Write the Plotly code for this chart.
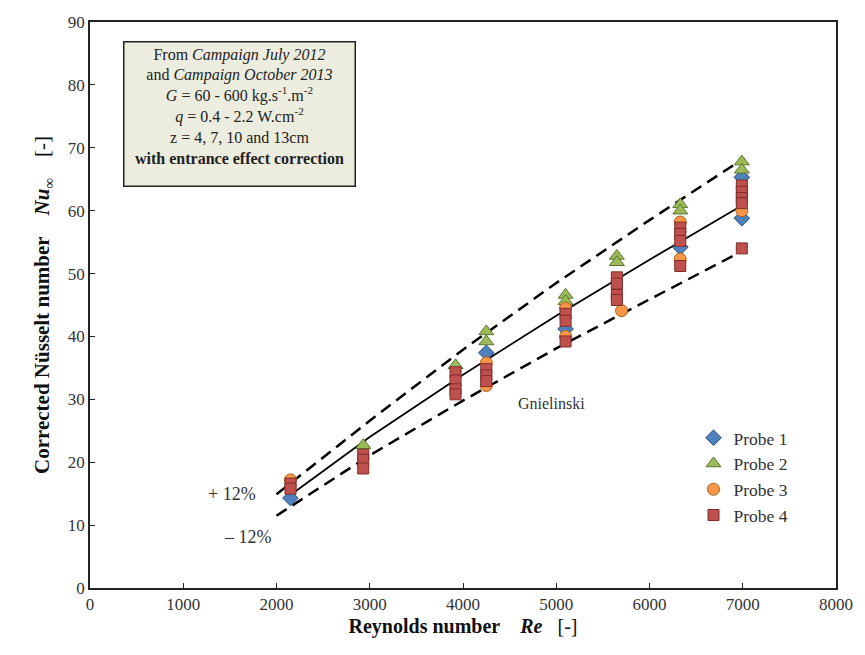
import plotly.graph_objects as go

# Gnielinski correlation and +/-12 % bounds
re_gn = [2150, 3000, 4000, 5000, 6000, 7000]
nu_gn = [14.8, 24.0, 33.9, 43.3, 52.2, 60.9]
re_band = [2000, 3000, 4000, 5000, 6000, 7000]
nu_upper = [14.9, 26.6, 37.9, 48.5, 58.5, 68.2]
nu_lower = [11.5, 21.1, 29.8, 38.1, 45.9, 53.6]

# Probe measurements
re_p1 = [2150, 4250, 5100, 6330, 6990, 6990]
nu_p1 = [14.3, 37.4, 41.2, 54.2, 65.3, 58.8]

re_p2 = [2930, 3920, 4250, 4250, 5100, 5100, 5650, 5650, 6330, 6330, 6990, 6990]
nu_p2 = [22.7, 35.4, 40.8, 39.2, 46.6, 45.6, 52.8, 51.8, 61.0, 60.0, 67.8, 66.5]

re_p3 = [2150, 4250, 4250, 5100, 5100, 5700, 6330, 6330, 6990]
nu_p3 = [17.2, 35.8, 32.2, 44.5, 40.0, 44.1, 58.2, 52.3, 60.0]

re_p4 = [2150, 2150, 2930, 2930, 2930, 3920, 3920, 3920, 3920, 4250, 4250, 4250,
         5100, 5100, 5100, 5650, 5650, 5650, 5650, 6330, 6330, 6330, 6330,
         6990, 6990, 6990, 6990, 6990]
nu_p4 = [16.6, 15.8, 21.2, 20.4, 19.0, 34.3, 33.0, 31.6, 30.8, 34.8, 33.8, 32.9,
         43.6, 42.5, 39.2, 49.4, 48.4, 46.6, 45.8, 57.3, 56.3, 55.2, 51.2,
         64.0, 63.0, 62.0, 61.2, 54.0]

x_ticks = [0, 1000, 2000, 3000, 4000, 5000, 6000, 7000, 8000]
y_ticks = [0, 10, 20, 30, 40, 50, 60, 70, 80, 90]

SERIF = "Liberation Serif"
SP = "&nbsp;" * 4

fig = go.Figure()

fig.add_trace(go.Scatter(x=re_band, y=nu_upper, mode="lines", showlegend=False,
                         line=dict(color="black", width=2.5, dash="12px,7px"), hoverinfo="skip"))
fig.add_trace(go.Scatter(x=re_band, y=nu_lower, mode="lines", showlegend=False,
                         line=dict(color="black", width=2.5, dash="12px,7px"), hoverinfo="skip"))
fig.add_trace(go.Scatter(x=re_gn, y=nu_gn, mode="lines", showlegend=False,
                         line=dict(color="black", width=1.8), hoverinfo="skip"))

probes = [
    ("Probe 1", re_p1, nu_p1, "diamond", "#4F81BD", "#2C4D75", 12),
    ("Probe 2", re_p2, nu_p2, "triangle-up", "#9BBB59", "#5E7530", 13),
    ("Probe 3", re_p3, nu_p3, "circle", "#F79646", "#B35F1F", 12),
    ("Probe 4", re_p4, nu_p4, "square", "#C0504D", "#7F2D2A", 11),
]
for name, xs, ys, sym, fill, edge, size in probes:
    fig.add_trace(go.Scatter(x=xs, y=ys, mode="markers", name=name,
                             marker=dict(symbol=sym, color=fill, size=size,
                                         line=dict(color=edge, width=1))))

fig.add_annotation(
    xref="paper", yref="paper", x=0.2005, y=0.838, xanchor="center", yanchor="middle",
    showarrow=False, align="center", valign="top",
    text=("From <i>Campaign July 2012</i><br>"
          "and <i>Campaign October 2013</i><br>"
          "<i>G</i> = 60 - 600 kg.s<sup>-1</sup>.m<sup>-2</sup><br>"
          "<i>q</i> = 0.4 - 2.2 W.cm<sup>-2</sup><br>"
          "z = 4, 7, 10 and 13cm<br>"
          "<b>with entrance effect correction</b>"),
    font=dict(family=SERIF, size=16, color="#222"),
    bgcolor="#EDEDDF", bordercolor="#222", borderwidth=1.5, borderpad=3,
    width=224, height=137,
)
fig.add_annotation(x=4950, y=29.4, text="Gnielinski", showarrow=False,
                   font=dict(family=SERIF, size=16, color="#333"))
fig.add_annotation(x=1520, y=15.0, text="+ 12%", showarrow=False,
                   font=dict(family=SERIF, size=18, color="#333"))
fig.add_annotation(x=1690, y=8.1, text="\u2013 12%", showarrow=False,
                   font=dict(family=SERIF, size=18, color="#333"))

fig.update_layout(
    width=865, height=655,
    margin=dict(l=90, r=27, t=22, b=67),
    paper_bgcolor="white", plot_bgcolor="white",
    font=dict(family=SERIF, color="#222"),
    legend=dict(x=0.809, y=0.297, xanchor="left", yanchor="top",
                font=dict(family=SERIF, size=17.5, color="#333"),
                bgcolor="rgba(0,0,0,0)", tracegroupgap=0),
    xaxis=dict(range=[0, 8000], tickvals=x_ticks, ticktext=[str(v) for v in x_ticks],
               showgrid=False, zeroline=False, showline=True, linecolor="#222", linewidth=1.5,
               mirror=True, ticks="inside", ticklen=5, tickcolor="#222",
               tickfont=dict(family=SERIF, size=17, color="#333"),
               title=dict(text="<b>Reynolds number" + SP + "<i>Re</i></b>" + SP[:18] + "[-]",
                          font=dict(family=SERIF, size=20, color="#111"), standoff=6)),
    yaxis=dict(range=[0, 90], tickvals=y_ticks, ticktext=[str(v) for v in y_ticks],
               showgrid=False, zeroline=False, showline=True, linecolor="#222", linewidth=1.5,
               mirror=True, ticks="inside", ticklen=5, tickcolor="#222",
               tickfont=dict(family=SERIF, size=17, color="#333"),
               title=dict(text="<b>Corrected Nüsselt number" + SP + "<i>Nu</i><sub>∞</sub></b>" + SP + "[-]",
                          font=dict(family=SERIF, size=21, color="#111"), standoff=12)),
)

fig.write_html("out.html")
